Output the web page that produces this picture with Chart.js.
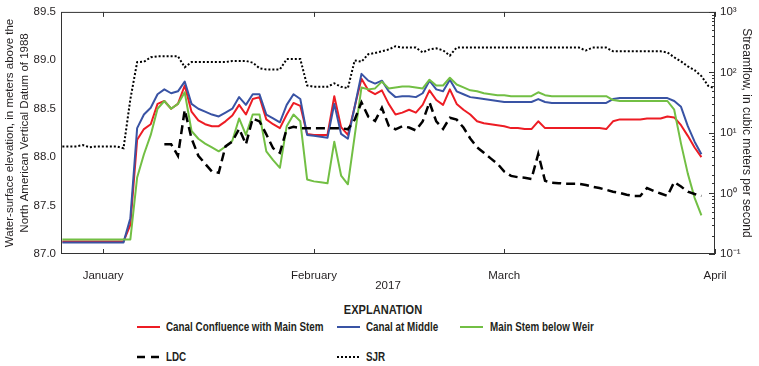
<!DOCTYPE html>
<html>
<head>
<meta charset="utf-8">
<script src="https://cdn.jsdelivr.net/npm/chart.js@4.4.1/dist/chart.umd.min.js"></script>
<style>
  body { margin: 0; background: #fff; }
  #wrap { position: relative; width: 759px; height: 366px; background: #fff;
          font-family: 'Liberation Sans', Arial, sans-serif; color: #231f20; }
  #chart { position: absolute; left: 0; top: 0; }
  .lg { position: absolute; font-weight: bold; font-size: 12px; line-height: 14px; white-space: nowrap;
        transform: scaleX(0.82); transform-origin: 0 50%; }
  .sw { position: absolute; }
  #expl { position: absolute; left: 383px; top: 302px; font-weight: bold; font-size: 13px; line-height: 15px;
          white-space: nowrap; transform: translateX(-50%) scaleX(0.85); }
</style>
</head>
<body>
<div id="wrap">
  <canvas id="chart" width="759" height="300"></canvas>
  <div id="expl">EXPLANATION</div>

  <svg class="sw" style="left:137px;top:321px" width="24" height="12"><line x1="0" y1="6" x2="23" y2="6" stroke="#ed1c24" stroke-width="2"/></svg>
  <div class="lg" style="left:166px;top:320px">Canal Confluence with Main Stem</div>
  <svg class="sw" style="left:337px;top:321px" width="24" height="12"><line x1="0" y1="6" x2="23" y2="6" stroke="#3953a4" stroke-width="2"/></svg>
  <div class="lg" style="left:366px;top:320px">Canal at Middle</div>
  <svg class="sw" style="left:460px;top:321px" width="24" height="12"><line x1="0" y1="6" x2="23" y2="6" stroke="#72bf44" stroke-width="2"/></svg>
  <div class="lg" style="left:490px;top:320px">Main Stem below Weir</div>

  <svg class="sw" style="left:137px;top:351px" width="24" height="12"><line x1="0" y1="6" x2="23" y2="6" stroke="#000" stroke-width="2.5" stroke-dasharray="8,6"/></svg>
  <div class="lg" style="left:166px;top:350px">LDC</div>
  <svg class="sw" style="left:337px;top:351px" width="24" height="12"><line x1="0" y1="6" x2="23" y2="6" stroke="#000" stroke-width="2" stroke-dasharray="2,2"/></svg>
  <div class="lg" style="left:366px;top:350px">SJR</div>
</div>

<script>
// days counted from January 1, 2017 (0 = Jan 1)
const days = [];
for (let d = -6; d <= 90; d++) days.push(d);

const monthTicks = [0, 31, 59, 90];
const monthLabels = ['January', 'February', 'March', 'April'];

const flowTicks = [0.1, 1, 10, 100, 1000];
const flowTickLabels = ['10\u207B\u00B9', '10\u2070', '10\u00B9', '10\u00B2', '10\u00B3'];

// water-surface elevation, meters (left axis)
const confluence = [
  87.13, 87.13, 87.13, 87.13, 87.13, 87.13, 87.13, 87.13, 87.13, 87.13,
  87.30, 88.18, 88.29, 88.34, 88.55, 88.58, 88.50, 88.55, 88.74, 88.47,
  88.38, 88.34, 88.32, 88.32, 88.37, 88.43, 88.54, 88.44, 88.60, 88.62,
  88.39, 88.34, 88.30, 88.44, 88.56, 88.53, 88.24, 88.23, 88.23, 88.23,
  88.63, 88.31, 88.23, 88.52, 88.81, 88.69, 88.65, 88.69, 88.55, 88.44,
  88.46, 88.49, 88.46, 88.54, 88.69, 88.59, 88.54, 88.70, 88.55, 88.49,
  88.44, 88.37, 88.35, 88.34, 88.33, 88.32, 88.30, 88.30, 88.29, 88.29,
  88.37, 88.30, 88.30, 88.30, 88.30, 88.30, 88.30, 88.30, 88.30, 88.30,
  88.29, 88.37, 88.39, 88.39, 88.39, 88.39, 88.40, 88.40, 88.40, 88.42,
  88.41, 88.33, 88.22, 88.10, 88.00, null, null
];
const canalMiddle = [
  87.12, 87.12, 87.12, 87.12, 87.12, 87.12, 87.12, 87.12, 87.12, 87.12,
  87.37, 88.30, 88.44, 88.51, 88.65, 88.70, 88.66, 88.68, 88.78, 88.55,
  88.50, 88.47, 88.44, 88.42, 88.46, 88.50, 88.62, 88.54, 88.65, 88.65,
  88.44, 88.40, 88.36, 88.54, 88.65, 88.60, 88.23, 88.22, 88.21, 88.20,
  88.55, 88.24, 88.19, 88.52, 88.86, 88.79, 88.76, 88.79, 88.68, 88.62,
  88.63, 88.63, 88.62, 88.66, 88.79, 88.70, 88.68, 88.80, 88.68, 88.65,
  88.62, 88.61, 88.60, 88.59, 88.58, 88.57, 88.57, 88.57, 88.57, 88.57,
  88.60, 88.57, 88.56, 88.56, 88.56, 88.56, 88.56, 88.56, 88.56, 88.56,
  88.56, 88.60, 88.61, 88.61, 88.61, 88.61, 88.61, 88.61, 88.61, 88.61,
  88.58, 88.52, 88.32, 88.16, 88.03, null, null
];
const belowWeir = [
  87.15, 87.15, 87.15, 87.15, 87.15, 87.15, 87.15, 87.15, 87.15, 87.15,
  87.15, 87.79, 88.03, 88.23, 88.50, 88.58, 88.50, 88.55, 88.67, 88.27,
  88.19, 88.14, 88.10, 88.06, 88.11, 88.17, 88.40, 88.23, 88.44, 88.44,
  88.06, 87.97, 87.89, 88.32, 88.44, 88.37, 87.77, 87.75, 87.74, 87.73,
  88.16, 87.81, 87.72, 88.22, 88.72, 88.70, 88.71, 88.78, 88.71, 88.72,
  88.73, 88.73, 88.72, 88.71, 88.80, 88.74, 88.74, 88.82, 88.75, 88.72,
  88.69, 88.68, 88.66, 88.65, 88.64, 88.64, 88.63, 88.63, 88.63, 88.63,
  88.67, 88.64, 88.63, 88.63, 88.63, 88.63, 88.63, 88.63, 88.63, 88.63,
  88.63, 88.59, 88.58, 88.58, 88.58, 88.58, 88.58, 88.58, 88.58, 88.58,
  88.49, 88.14, 87.83, 87.58, 87.40, null, null
];

// streamflow, cubic meters per second (right axis, log)
const ldc = [
  null, null, null, null, null, null, null, null, null, null,
  null, null, null, null, null, 6.5, 6.5, 4.2, 24, 8.1,
  4.2, 3.1, 2.3, 2.2, 6.0, 7.2, 11.7, 6.5, 17.4, 15.5,
  9.5, 5.6, 4.7, 11.7, 12.6, 12, 12, 12, 12, 12,
  12, 12, 11.5, 16.6, 32, 18.6, 15.8, 26, 13.2, 11.5,
  12.9, 12.3, 11, 15.5, 32, 15.5, 11.7, 17.8, 16.6, 12.3,
  8.1, 5.8, 4.7, 3.8, 3.1, 2.3, 1.95, 1.86, 1.82, 1.74,
  4.5, 1.62, 1.51, 1.48, 1.45, 1.45, 1.45, 1.38, 1.29, 1.23,
  1.15, 1.07, 1.02, 0.95, 0.91, 0.91, 1.23, 1.1, 1.0, 0.91,
  1.55, 1.3, 1.07, 0.98, 0.91, null, null
];
const sjr = [
  6.0, 6.0, 6.0, 6.3, 5.8, 6.0, 6.0, 6.0, 6.0, 5.6,
  36, 148, 150, 178, 185, 185, 185, 185, 122, 148,
  148, 148, 148, 148, 148, 155, 155, 155, 145, 117,
  112, 112, 112, 166, 166, 166, 61, 58, 58, 58,
  66, 58, 55, 158, 150, 200, 210, 224, 240, 270,
  257, 257, 257, 214, 240, 250, 232, 190, 257, 257,
  257, 257, 257, 257, 257, 257, 257, 257, 257, 257,
  257, 257, 257, 257, 257, 257, 257, 230, 257, 257,
  257, 223, 223, 223, 223, 223, 223, 223, 223, 214,
  178, 152, 126, 109, 87, 60, 54
];

const pts = arr => days.map((d, i) => ({ x: d, y: arr[i] }));

Chart.defaults.font.family = "'Liberation Sans', Arial, sans-serif";
Chart.defaults.color = '#231f20';

// box around the plot and inward tick marks
const frameTicks = {
  id: 'frameTicks',
  afterDraw(chart) {
    const { ctx, chartArea: a, scales } = chart;
    ctx.save();
    ctx.strokeStyle = '#333';
    ctx.lineWidth = 1;
    ctx.strokeRect(a.left + 0.5, a.top + 0.5, a.right - a.left - 1, a.bottom - a.top - 1);
    ctx.beginPath();
    scales.x.ticks.forEach(t => {
      const px = Math.round(scales.x.getPixelForValue(t.value)) + 0.5;
      ctx.moveTo(px, a.bottom); ctx.lineTo(px, a.bottom - 5);
      ctx.moveTo(px, a.top); ctx.lineTo(px, a.top + 5);
    });
    scales.y2.ticks.forEach(t => {
      const py = Math.round(scales.y2.getPixelForValue(t.value)) + 0.5;
      const lg = Math.log10(t.value);
      const len = Math.abs(lg - Math.round(lg)) < 1e-6 ? 6 : 3;
      ctx.moveTo(a.right, py); ctx.lineTo(a.right - len, py);
    });
    ctx.stroke();
    ctx.restore();
  }
};

const line = (label, arr, color, axis, extra) => Object.assign({
  label: label,
  data: pts(arr),
  yAxisID: axis,
  borderColor: color,
  borderWidth: 2,
  pointRadius: 0,
  tension: 0,
  fill: false,
  spanGaps: true,
  borderJoinStyle: 'round'
}, extra || {});

new Chart(document.getElementById('chart').getContext('2d'), {
  type: 'line',
  data: {
    datasets: [
      line('LDC', ldc, '#000', 'y2', { borderWidth: 2.5, borderDash: [9, 5], borderJoinStyle: 'miter' }),
      line('SJR', sjr, '#000', 'y2', { borderWidth: 2, borderDash: [2, 2], borderJoinStyle: 'miter' }),
      line('Main Stem below Weir', belowWeir, '#72bf44', 'y'),
      line('Canal at Middle', canalMiddle, '#3953a4', 'y'),
      line('Canal Confluence with Main Stem', confluence, '#ed1c24', 'y')
    ]
  },
  options: {
    responsive: false,
    devicePixelRatio: 1,
    animation: false,
    layout: { padding: { top: 9 } },
    plugins: { legend: { display: false }, tooltip: { enabled: false } },
    scales: {
      x: {
        type: 'linear',
        min: -6.2,
        max: 90,
        grid: { display: false },
        border: { display: false },
        afterBuildTicks: s => { s.ticks = monthTicks.map(v => ({ value: v })); },
        afterFit: s => { s.height = 46; },
        ticks: {
          autoSkip: false,
          maxRotation: 0,
          padding: 7,
          font: { size: 11.5 },
          callback: (v, i) => monthLabels[i]
        },
        title: { display: true, text: '2017', font: { size: 11.5 }, padding: { top: 0, bottom: 7 } }
      },
      y: {
        position: 'left',
        min: 87,
        max: 89.5,
        grid: { display: false, drawTicks: false },
        border: { display: false },
        afterFit: s => { s.width = 61; },
        ticks: { stepSize: 0.5, padding: 5, font: { size: 11.5 } },
        title: {
          display: true,
          text: ['Water-surface elevation, in meters above the', 'North American Vertical Datum of 1988'],
          font: { size: 11.5, lineHeight: 1.3 },
          padding: { top: 2.5, bottom: 0 }
        }
      },
      y2: {
        type: 'logarithmic',
        position: 'right',
        min: 0.1,
        max: 1000,
        grid: { display: false, drawTicks: false },
        border: { display: false },
        afterFit: s => { s.width = 44; },
        ticks: {
          autoSkip: false,
          padding: 5,
          font: { size: 11.5 },
          callback: v => {
            const i = flowTicks.findIndex(t => Math.abs(v - t) / t < 1e-6);
            return i >= 0 ? flowTickLabels[i] : '';
          }
        },
        title: {
          display: true,
          text: 'Streamflow, in cubic meters per second',
          font: { size: 12 },
          padding: { top: 5, bottom: 0 }
        }
      }
    }
  },
  plugins: [frameTicks]
});
</script>
</body>
</html>
